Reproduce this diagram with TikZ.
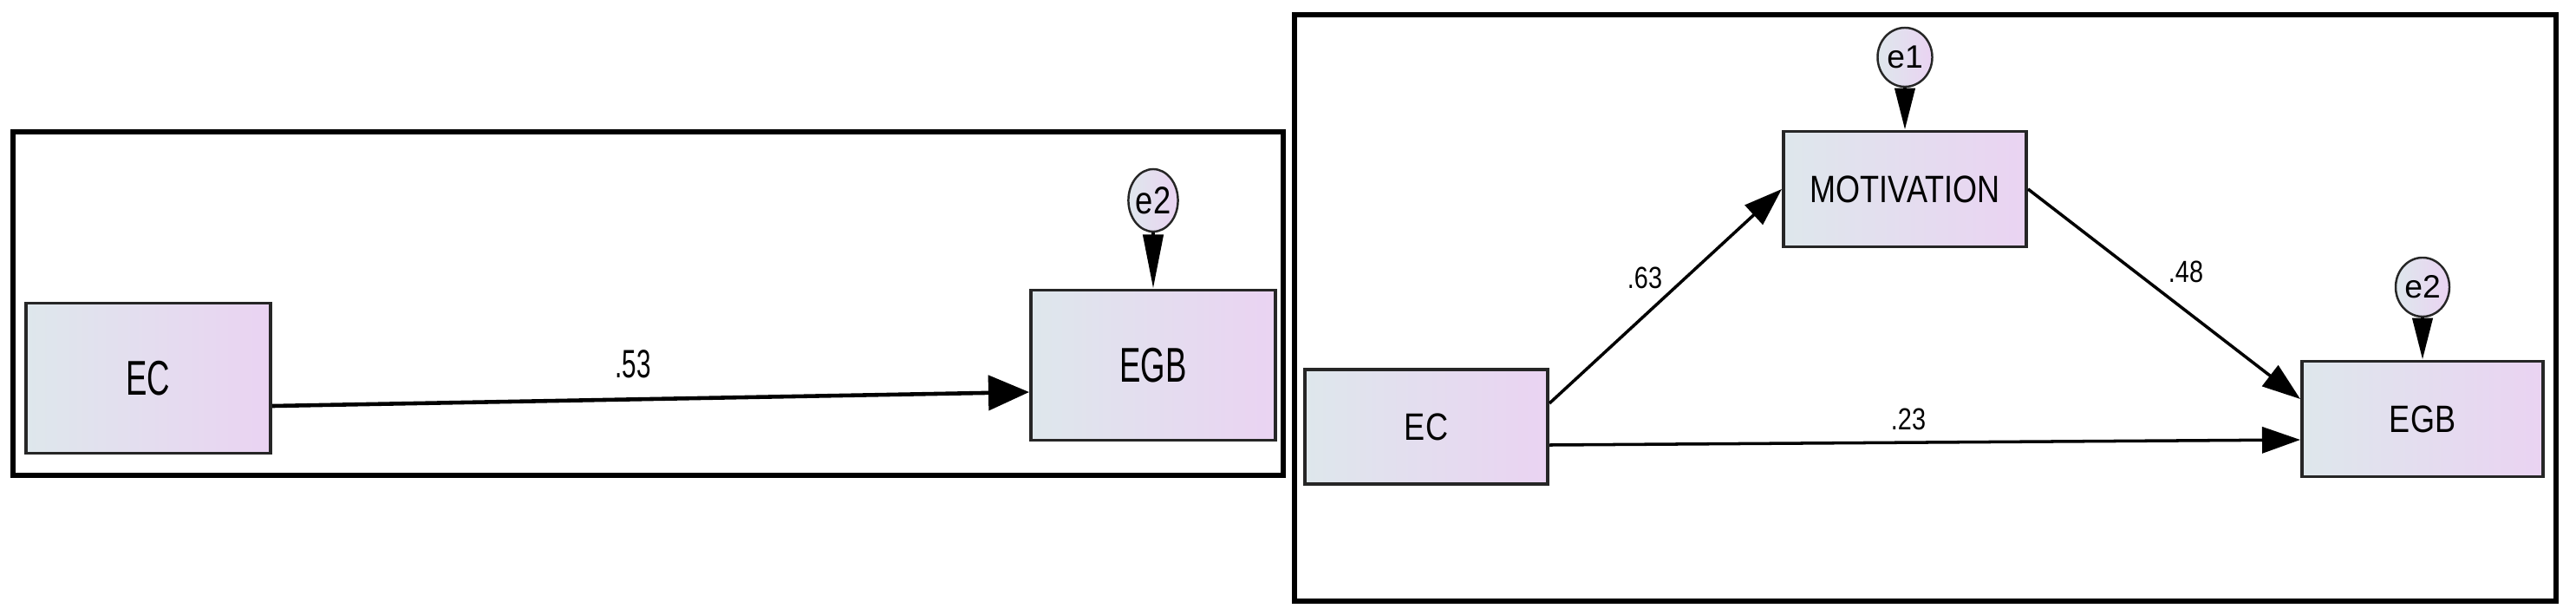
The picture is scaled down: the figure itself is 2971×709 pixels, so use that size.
\documentclass[tikz,border=0pt]{standalone}
\usepackage{fontspec}
\usepackage{tikz}
\usetikzlibrary{shapes.geometric,arrows.meta,positioning}
\newfontfamily\amosfont{Liberation Sans}
\newfontfamily\amosnarrow[FakeStretch=0.82]{Liberation Sans}
\newfontfamily\amoscond[FakeStretch=0.65]{Liberation Sans}
\definecolor{AmosBlue}{HTML}{DEE7EC}
\definecolor{AmosLilac}{HTML}{EAD3F2}
\definecolor{AmosEdge}{HTML}{262626}
\tikzset{
    % Observed variable box
    varbox/.style={
        draw=AmosEdge,
        line width=1.1pt,
        left color=AmosBlue,
        right color=AmosLilac,
        minimum width=2.8cm,
        minimum height=1.32cm,
        inner sep=0pt,
        align=center,
        font=\amosnarrow\fontsize{12.5}{15}\selectfont
    },
    % Tall box of the left panel
    tallbox/.style={
        varbox,
        minimum width=2.82cm,
        minimum height=1.73cm,
        font=\amoscond\fontsize{16}{19}\selectfont
    },
    % Error term
    errnode/.style={
        ellipse,
        draw=AmosEdge,
        line width=0.7pt,
        left color=AmosBlue,
        right color=AmosLilac,
        inner sep=0pt,
        minimum width=0.62cm,
        minimum height=0.68cm,
        font=\amosfont\fontsize{10.6}{12}\selectfont
    },
    % Regression path
    regarrow/.style={
        -{Triangle[length=0.44cm,width=0.3cm]},
        line width=1pt,
        draw=black
    },
    % Error path
    errarrow/.style={
        -{Triangle[length=#1,width=0.23cm]},
        line width=1.2pt,
        draw=black
    },
    % Path weight
    weightlbl/.style={
        inner sep=0pt,
        font=\amosnarrow\fontsize{10}{12}\selectfont
    },
    % Panel frame
    panelbox/.style={
        draw=black,
        line width=1.9pt
    }
}
\begin{document}
\begin{tikzpicture}[x=0.01cm, y=-0.01cm]
    \useasboundingbox (0,0) rectangle (2971,709);

    % left panel
    \draw[panelbox] (15,152) rectangle (1480,548);
    \node[tallbox] (lec) at (171,436) {EC};
    \node[tallbox] (legb) at (1330,421) {EGB};
    \node[errnode, minimum width=0.56cm, minimum height=0.72cm,
          font=\amosnarrow\fontsize{12.6}{14}\selectfont] (le2) at (1330,231) {e2};
    \draw[errarrow=0.62cm] (le2) -- (legb);
    \draw[regarrow, line width=1.3pt, -{Triangle[length=0.47cm,width=0.4cm]}]
        ([yshift=-0.32cm]lec.east) -- ([yshift=-0.31cm]legb.west);
    \node[weightlbl, font=\amoscond\fontsize{13}{15}\selectfont] (w53) at (730,420) {.53};

    % right panel
    \draw[panelbox] (1493,17) rectangle (2948,693);
    \node[varbox] (rec) at (1645,492) {EC};
    \node[varbox, minimum height=1.33cm] (rmot) at (2197,218) {MOTIVATION};
    \node[varbox, minimum width=2.78cm, minimum height=1.33cm] (regb) at (2794,483) {EGB};
    \node[errnode, minimum width=0.63cm] (re1) at (2197,66) {e1};
    \node[errnode] (re2) at (2794,331) {e2};
    \draw[errarrow=0.48cm] (re1) -- (rmot);
    \draw[errarrow=0.48cm] (re2) -- (regb);
    \draw[regarrow] ([yshift=0.27cm]rec.east) -- (rmot.west);
    \draw[regarrow] (rmot.east) -- ([yshift=0.23cm]regb.west);
    \draw[regarrow] ([yshift=-0.21cm]rec.east) -- ([yshift=-0.24cm]regb.west);
    \node[weightlbl] (w63) at (1897,320) {.63};
    \node[weightlbl] (w48) at (2521,313) {.48};
    \node[weightlbl] (w23) at (2201,483) {.23};
\end{tikzpicture}
\end{document}
